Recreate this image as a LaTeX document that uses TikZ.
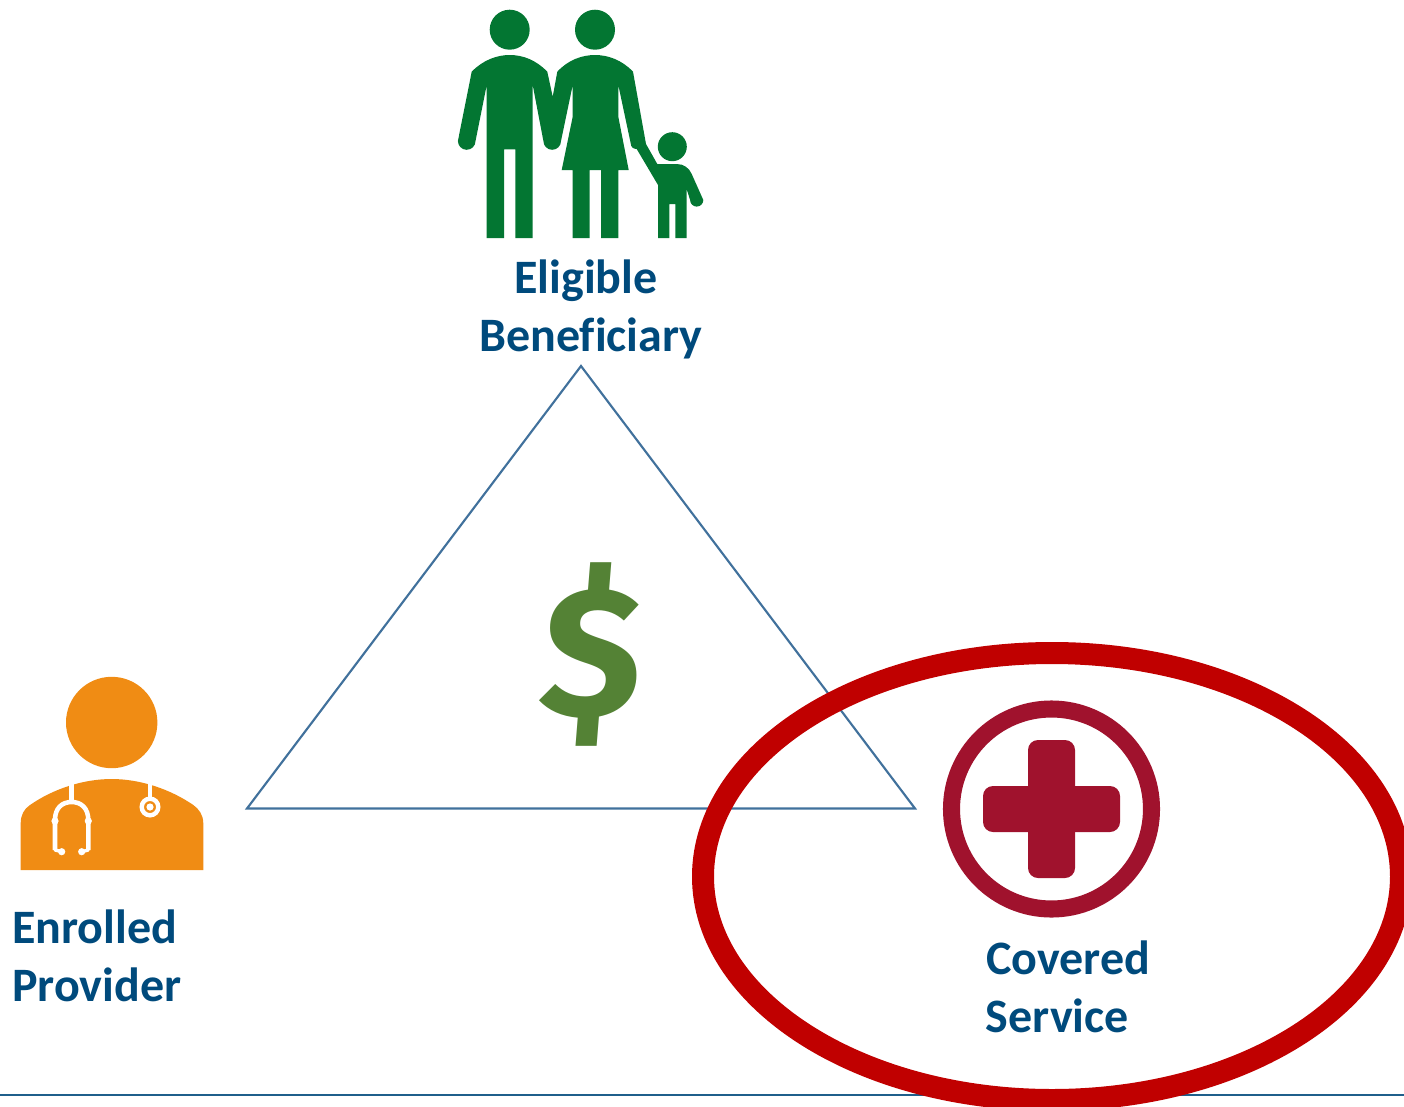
\documentclass[tikz,border=0pt]{standalone}
\usepackage{fontspec}
\setmainfont{Carlito}[Ligatures=NoCommon]
\newfontfamily\dollarfont{Fira Sans}
\definecolor{famgreen}{HTML}{037632}
\definecolor{docorange}{HTML}{F08C14}
\definecolor{tribl}{HTML}{41719C}
\definecolor{dollargr}{HTML}{548235}
\definecolor{ringred}{HTML}{C00000}
\definecolor{crossred}{HTML}{A0122D}
\definecolor{labelbl}{HTML}{004A7C}
\definecolor{rulebl}{HTML}{1F5F8B}
\tikzset{
  lab/.style={anchor=base west,inner sep=0pt,text=labelbl,font=\fontsize{36}{36}\selectfont\bfseries},
  fam/.style={fill=famgreen,draw=none},
  doc/.style={fill=docorange,draw=none},
  steth/.style={draw=white,line width=3.4pt,line cap=round,fill=none},
}
\begin{document}
\begin{tikzpicture}[x=0.75pt,y=-0.75pt]
\useasboundingbox (0,0) rectangle (1404,1107);
\clip (0,0) rectangle (1404,1107);
% rule
\draw[rulebl,line width=2pt] (0,1095) -- (1404,1095);
% triangle
\draw[tribl,line width=1.6pt,line join=miter] (581,366) -- (915,808.5) -- (247,808.5) -- cycle;
% dollar
\begin{scope}[shift={(592.5,654.5)},xslant=0.08]
\node[inner sep=0pt,transform shape,text=dollargr,font=\dollarfont\fontsize{139}{139}\selectfont\bfseries] (dollar) at (0,0) {\$};
\end{scope}
% family
\fill[fam] (509.7,29.7) circle[radius=20];
\fill[fam] (595,29.7) circle[radius=20];
\fill[fam] (672.3,146.7) circle[radius=14.5];
\fill[fam] (471.7,71.7) .. controls (483,60) and (497,55) .. (509.7,55)
  .. controls (523,55) and (536,60) .. (547.3,71.7)
  -- (552.7,96.7) -- (557.3,71.7)
  .. controls (568,60) and (582,55) .. (595,55)
  .. controls (608,55) and (622,60) .. (633,71.7)
  -- (646,144) -- (657.3,164) -- (676.7,164)
  .. controls (684,164) and (689,168) .. (691.7,174)
  -- (703.3,200) arc[start angle=0,end angle=180,radius=6.6] -- (686.7,189.3)
  -- (686.7,238) -- (675.3,238) -- (675.3,204) -- (669.3,204) -- (669.3,238) -- (658,238)
  -- (658,185) -- (636.7,149)
  .. controls (633,149) and (631,147) .. (630.7,143.3)
  -- (618.3,85) -- (618.3,116.7) -- (628.7,170) -- (618.3,170) -- (618.3,238) -- (601,238)
  -- (601,170) -- (589.7,170) -- (589.7,238) -- (572.7,238) -- (572.7,170) -- (561.7,170)
  -- (572.7,116.7) -- (572.7,85) -- (561,141)
  arc[start angle=0,end angle=180,radius=8.8]
  -- (532.7,85) -- (532.7,238) -- (515.3,238) -- (515.3,149.3) -- (504,149.3) -- (504,238)
  -- (486.7,238) -- (486.7,85) -- (475.5,141)
  arc[start angle=0,end angle=180,radius=8.8] -- cycle;
% doctor
\fill[doc] (111.7,722.5) circle[radius=45.7];
\fill[doc] (20.7,870) -- (203.3,870) -- (203.3,823.3)
  .. controls (203.3,815) and (199,809) .. (193.3,805)
  .. controls (170,789) and (140,779) .. (111.7,779)
  .. controls (83,779) and (53,789) .. (30,805)
  .. controls (24,809) and (20.7,815) .. (20.7,823.3) -- cycle;
\draw[steth,line cap=butt] (71.7,784) -- (71.7,802);
\draw[steth,line cap=butt] (55,850) -- (55,820) .. controls (55,808) and (62,802) .. (71.7,802)
  .. controls (81,802) and (88.3,808) .. (88.3,820) -- (88.3,850);
\draw[steth,line width=2.5pt] (55,850) -- (61.7,851.7);
\draw[steth,line width=2.5pt] (88.3,850) -- (81.7,851.7);
\fill[white] (61.7,851.7) circle[radius=3.6];
\fill[white] (81.7,851.7) circle[radius=3.6];
\fill[white] (55,821) circle[radius=3.6];
\fill[white] (88.3,821) circle[radius=3.6];
\draw[steth,line cap=butt] (150,784) -- (150,798);
\draw[draw=white,line width=3.3pt] (150,807) circle[radius=8.3];
\fill[white] (150,807) circle[radius=3.6];
% ring
\draw[crossred,line width=12.8pt] (1051.5,809) circle[radius=100];
\fill[crossred,rounded corners=7.5pt] (1028,740) rectangle (1075,878);
\fill[crossred,rounded corners=7.5pt] (983,786) rectangle (1120,832);
% big ellipse
\draw[ringred,line width=16.5pt] (1052,876.5) ellipse[x radius=349,y radius=223.5];
% labels
\node[lab] (elig) at (514,293.7) {Eligible};
\node[lab] (benef) at (479,351.2) {Beneficiary};
\node[lab] (enr) at (12,943.2) {Enrolled};
\node[lab] (prov) at (12,1001.2) {Provider};
\node[lab] (cov) at (986,974.2) {Covered};
\node[lab] (serv) at (985.5,1032.2) {Service};
\end{tikzpicture}
\end{document}
